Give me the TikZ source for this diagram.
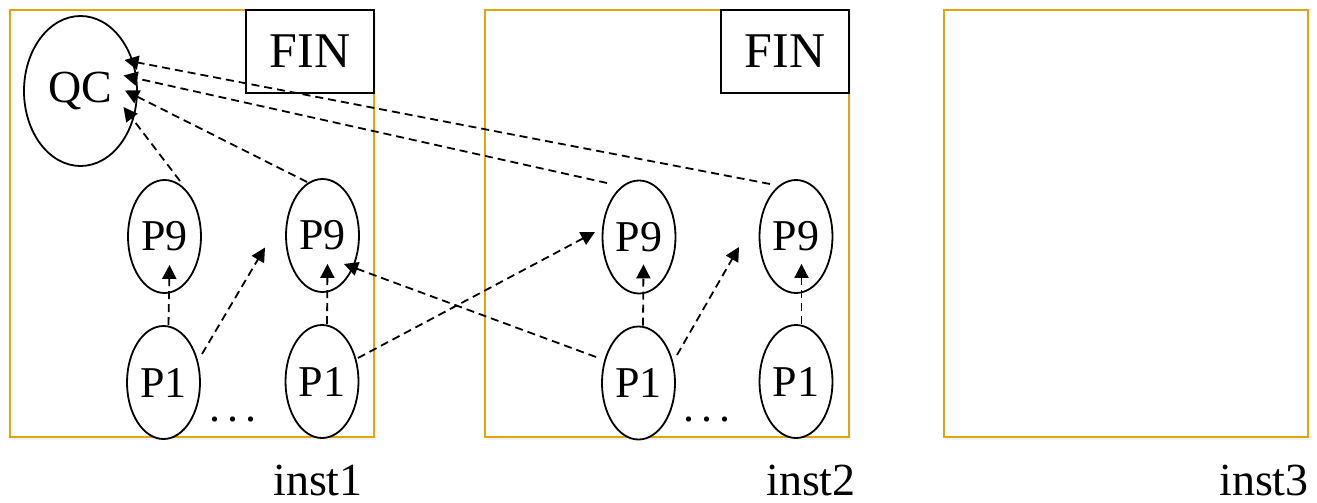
\documentclass[tikz,border=0pt]{standalone}
\usepackage{fontspec}
\setmainfont{Liberation Serif}
\usetikzlibrary{arrows.meta,shapes.geometric,shadows}
\definecolor{boxgold}{RGB}{222,168,12}
\tikzset{
  instbox/.style={draw=boxgold, line width=2pt, fill=white, minimum width=364pt, minimum height=427pt, inner sep=0pt,
    drop shadow={opacity=0.10, shadow xshift=1.5pt, shadow yshift=-3pt}},
  finbox/.style={draw=black, line width=1.6pt, fill=white, minimum width=128pt, minimum height=83pt, inner sep=0pt, font=\fontsize{50}{56}\selectfont},
  proc/.style={draw=black, ellipse, line width=1.8pt, fill=white, minimum width=73pt, minimum height=113pt, inner sep=0pt, font=\fontsize{44}{50}\selectfont},
  qcnode/.style={draw=black, ellipse, line width=1.8pt, fill=white, minimum width=113pt, minimum height=150pt, inner sep=0pt, font=\fontsize{46}{52}\selectfont},
  lbl/.style={anchor=base, inner sep=0pt, font=\fontsize{46}{52}\selectfont},
  dots/.style={anchor=base, inner sep=0pt, font=\fontsize{44}{50}\selectfont},
  msg/.style={line width=1.8pt, dash pattern=on 8pt off 5pt, -{Triangle[length=14pt,width=14pt]}},
}
\begin{document}
\begin{tikzpicture}[x=1pt,y=-1pt]
\useasboundingbox (0,0) rectangle (1317,503);
% instance boxes
\node[instbox] (B1) at (192,223.5) {};
\node[instbox] (B2) at (667,223.5) {};
\node[instbox] (B3) at (1125.5,223.5) {};
\node[finbox] (F1) at (310,51.5) {FIN};
\node[finbox] (F2) at (785,51.5) {FIN};
% processes
\node[qcnode] (QC) at (80.5,91) {QC};
\node[proc] (P9a) at (164.5,236.5) {P9};
\node[proc] (P9b) at (322.5,235.5) {P9};
\node[proc] (P9c) at (639,237) {P9};
\node[proc] (P9d) at (796,236.5) {P9};
\node[proc] (P1a) at (163.5,382.5) {P1};
\node[proc] (P1b) at (322,381.5) {P1};
\node[proc] (P1c) at (638.5,383) {P1};
\node[proc] (P1d) at (796,381.5) {P1};
\node[dots] (D1) at (233,421) {.\hspace{7pt}.\hspace{7pt}.};
\node[dots] (D2) at (707,421) {.\hspace{7pt}.\hspace{7pt}.};
% labels
\node[lbl] (L1) at (318,495) {inst1};
\node[lbl] (L2) at (811,495) {inst2};
\node[lbl] (L3) at (1264,495) {inst3};
% tips near QC
\coordinate (q1) at (123.5,107);
\coordinate (q2) at (125,90.5);
\coordinate (q3) at (123.5,75.5);
\coordinate (q4) at (124.5,60);
% arrows to QC
\draw[msg] ([shift={(15.5,-55.5)}]P9a.center) -- (q1);
\draw[msg] ([shift={(-15.5,-53.5)}]P9b.center) -- (q2);
\draw[msg] ([shift={(-32,-54)}]P9c.center) -- (q3);
\draw[msg] ([shift={(-26,-52.5)}]P9d.center) -- (q4);
% vertical P1 -> P9
\draw[msg] ([shift={(5,0)}]P1a.north) -- ([shift={(5,-29)}]P9a.south);
\draw[msg] ([shift={(5,0)}]P1b.north) -- ([shift={(5,-29)}]P9b.south);
\draw[msg] ([shift={(4.5,0)}]P1c.north) -- ([shift={(4.5,-30)}]P9c.south);
\draw[msg] ([shift={(5.5,0)}]P1d.north) -- ([shift={(5.5,-30)}]P9d.south);
% diagonal arrows
\draw[msg] ([shift={(38.5,-28.5)}]P1a.center) -- ([shift={(-57.5,12)}]P9b.center);
\draw[msg] ([shift={(36,-23.5)}]P1b.center) -- ([shift={(-44,-5)}]P9c.center);
\draw[msg] ([shift={(-42.5,-26)}]P1c.center) -- ([shift={(21.5,28.5)}]P9b.center);
\draw[msg] ([shift={(38.5,-28)}]P1c.center) -- ([shift={(-57,10.5)}]P9d.center);
\end{tikzpicture}
\end{document}
